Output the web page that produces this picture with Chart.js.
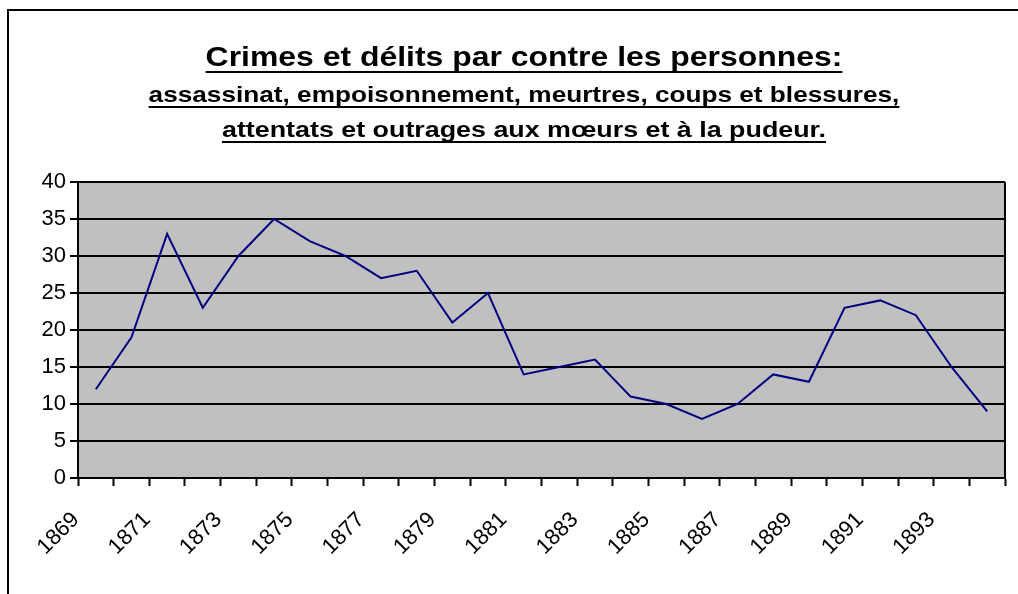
<!DOCTYPE html>
<html>
<head>
<meta charset="utf-8">
<script src="https://cdn.jsdelivr.net/npm/chart.js@4/dist/chart.umd.min.js"></script>
<style>
  html, body { margin: 0; padding: 0; background: #ffffff; }
  #wrap { width: 1018px; height: 594px; position: relative; }
</style>
</head>
<body>
<div id="wrap"><canvas id="c" width="1018" height="594"></canvas></div>
<script>
const years = ['1869','1870','1871','1872','1873','1874','1875','1876','1877','1878','1879','1880','1881','1882','1883','1884','1885','1886','1887','1888','1889','1890','1891','1892','1893','1894'];
const crimes = [12, 19, 33, 23, 30, 35, 32, 30, 27, 28, 21, 25, 14, 15, 16, 11, 10, 8, 10, 14, 13, 23, 24, 22, 15, 9];
const titleLines = [
  'Crimes et délits par contre les personnes:',
  'assassinat, empoisonnement, meurtres, coups et blessures,',
  'attentats et outrages aux mœurs et à la pudeur.'
];
const yMin = 0, yMax = 40, yStep = 5;

const FONT = '"Liberation Sans", Arial, sans-serif';

const frame = {
  id: 'frame',
  beforeDraw(chart) {
    const { ctx, chartArea: a } = chart;
    ctx.save();
    ctx.fillStyle = '#ffffff';
    ctx.fillRect(0, 0, chart.width, chart.height);
    ctx.fillStyle = '#c0c0c0';
    ctx.fillRect(a.left, a.top, a.right - a.left, a.bottom - a.top);
    ctx.restore();
  },
  afterDraw(chart) {
    const { ctx, chartArea: a } = chart;
    ctx.save();
    ctx.strokeStyle = '#000000';
    ctx.lineWidth = 2;
    ctx.beginPath();
    ctx.moveTo(8, chart.height + 2);
    ctx.lineTo(8, 10);
    ctx.lineTo(chart.width + 2, 10);
    ctx.stroke();
    ctx.beginPath();
    ctx.moveTo(a.right, a.top);
    ctx.lineTo(a.right, a.bottom);
    ctx.stroke();
    const specs = [
      { font: 'bold 28px ' + FONT, sx: 1.14, y: 66, ul: 71 },
      { font: 'bold 22px ' + FONT, sx: 1.19, y: 102, ul: 106 },
      { font: 'bold 22px ' + FONT, sx: 1.22, y: 137, ul: 141 }
    ];
    const cx = 524;
    ctx.fillStyle = '#000000';
    ctx.textAlign = 'center';
    ctx.textBaseline = 'alphabetic';
    titleLines.forEach((t, i) => {
      const s = specs[i];
      ctx.save();
      ctx.translate(cx, s.y);
      ctx.scale(s.sx, 1);
      ctx.font = s.font;
      ctx.fillText(t, 0, 0);
      const w = ctx.measureText(t).width;
      ctx.fillRect(-w / 2, s.ul - s.y, w, 2);
      ctx.restore();
    });
    ctx.restore();
  }
};

new Chart(document.getElementById('c'), {
  type: 'line',
  data: {
    labels: years,
    datasets: [{
      data: crimes,
      borderColor: '#000080',
      borderWidth: 2,
      pointRadius: 0,
      tension: 0,
      fill: false
    }]
  },
  options: {
    responsive: false,
    animation: false,
    layout: { padding: { top: 182, right: 13, left: 0, bottom: 0 } },
    plugins: { legend: { display: false }, tooltip: { enabled: false } },
    scales: {
      x: {
        type: 'category',
        offset: true,
        border: { display: true, color: '#000000', width: 2 },
        grid: { offset: true, drawOnChartArea: false, drawTicks: true, tickLength: 8, tickColor: '#000000', tickWidth: 2 },
        ticks: {
          autoSkip: false,
          maxRotation: 45,
          minRotation: 45,
          padding: 21,
          labelOffset: -20,
          color: '#000000',
          font: { family: FONT, size: 22 },
          callback: function (v, i) { return i % 2 === 0 ? this.getLabelForValue(v) : ''; }
        },
        afterFit(s) { s.height = 116; s.paddingRight = 0; s.paddingLeft = 0; }
      },
      y: {
        min: yMin,
        max: yMax,
        border: { display: true, color: '#000000', width: 2 },
        grid: { color: '#000000', lineWidth: 2, drawTicks: true, tickLength: 8, tickColor: '#000000' },
        ticks: {
          stepSize: yStep,
          padding: 4,
          color: '#000000',
          font: { family: FONT, size: 22 }
        },
        afterFit(s) { s.width = 78; s.paddingTop = 0; s.paddingBottom = 0; }
      }
    }
  },
  plugins: [frame]
});
</script>
</body>
</html>
